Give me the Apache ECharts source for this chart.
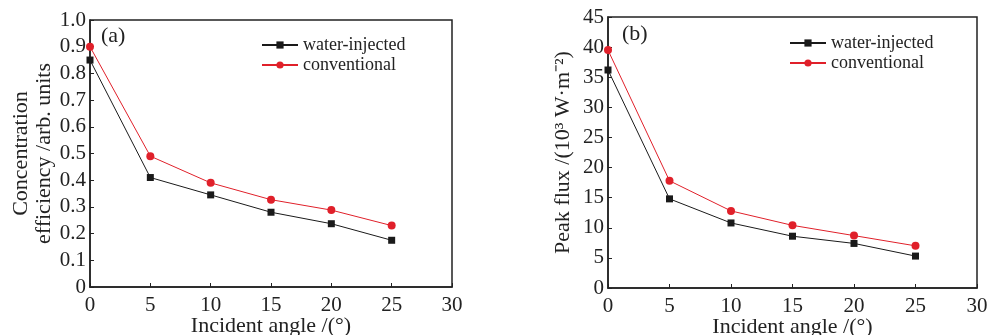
<!DOCTYPE html>
<html><head><meta charset="utf-8">
<script src="https://cdn.jsdelivr.net/npm/echarts@6/dist/echarts.min.js"></script>
<style>html,body{margin:0;padding:0;background:#fff}#c{width:992px;height:335px}</style>
</head><body><div id="c"></div>
<script>
const angles = [0, 5, 10, 15, 20, 25];
const effWater = [0.85, 0.41, 0.345, 0.28, 0.237, 0.175];
const effConv = [0.90, 0.49, 0.39, 0.327, 0.288, 0.23];
const fluxWater = [36.2, 14.8, 10.8, 8.6, 7.4, 5.3];
const fluxConv = [39.5, 17.8, 12.8, 10.4, 8.7, 7.0];
const seriesNames = ['water-injected', 'conventional'];
const panelLabels = ['(a)', '(b)'];

const FONT = 'Liberation Serif';
const black = '#1a1a1a', red = '#e0202a';
const pair = (xs, ys) => xs.map((x, i) => [x, ys[i]]);

function xAxis(gi) {
  return {
    type: 'value', gridIndex: gi, min: 0, max: 30, interval: 5,
    name: 'Incident angle /(°)', nameLocation: 'middle', nameGap: 28, nameMoveOverlap: false,
    nameTextStyle: {fontFamily: FONT, fontSize: 22, color: '#222'},
    axisLine: {lineStyle: {color: '#222', width: 1.5}},
    axisTick: {inside: true, length: 4, lineStyle: {color: '#222'}},
    axisLabel: {fontFamily: FONT, fontSize: 21, color: '#222', margin: 8},
    splitLine: {show: false}
  };
}
function yAxis(gi, max, interval, name, gap, fmt) {
  return {
    type: 'value', gridIndex: gi, min: 0, max: max, interval: interval,
    name: name, nameLocation: 'middle', nameGap: gap, nameRotate: 90, nameMoveOverlap: false,
    nameTextStyle: {fontFamily: FONT, fontSize: 22, color: '#222', lineHeight: 23},
    axisLine: {show: true, lineStyle: {color: '#222', width: 1.5}},
    axisTick: {show: true, inside: true, length: 4, lineStyle: {color: '#222'}},
    axisLabel: {fontFamily: FONT, fontSize: 21, color: '#222', margin: 4, formatter: fmt},
    splitLine: {show: false}
  };
}
function mk(name, gi, data, color, symbol, size) {
  return {
    name: name, type: 'line', xAxisIndex: gi, yAxisIndex: gi, data: data,
    symbol: symbol, symbolSize: size, itemStyle: {color: color},
    lineStyle: {color: color, width: 1}, emphasis: {disabled: true}
  };
}
const frame = {show: true, borderColor: '#222', borderWidth: 1.5, backgroundColor: 'transparent',
  containLabel: false, outerBoundsMode: 'none'};
const chart = echarts.init(document.getElementById('c'), null, {renderer: 'canvas'});
chart.setOption({
  animation: false,
  grid: [
    Object.assign({left: 90, top: 20, width: 362, height: 267}, frame),
    Object.assign({left: 608, top: 17, width: 369, height: 271}, frame)
  ],
  xAxis: [xAxis(0), xAxis(1)],
  yAxis: [
    yAxis(0, 1.0, 0.1, 'Concentration\nefficiency /arb. units', 34, v => v === 0 ? '0' : v.toFixed(1)),
    yAxis(1, 45, 5, 'Peak flux /(10³ W·m⁻²)', 33, v => String(v))
  ],
  legend: [
    {left: 256, top: 31, orient: 'vertical', itemGap: 2, itemWidth: 36, itemHeight: 9,
     textStyle: {fontFamily: FONT, fontSize: 18, color: '#222'}, data: seriesNames, selectedMode: false},
    {left: 784, top: 29, orient: 'vertical', itemGap: 2, itemWidth: 36, itemHeight: 9,
     textStyle: {fontFamily: FONT, fontSize: 18, color: '#222'}, data: seriesNames, selectedMode: false}
  ],
  graphic: [
    {type: 'text', left: 101, top: 25, style: {text: panelLabels[0], font: '22px ' + FONT, fill: '#222'}},
    {type: 'text', left: 622, top: 23, style: {text: panelLabels[1], font: '22px ' + FONT, fill: '#222'}}
  ],
  series: [
    mk(seriesNames[0], 0, pair(angles, effWater), black, 'rect', 7),
    mk(seriesNames[1], 0, pair(angles, effConv), red, 'circle', 8),
    mk(seriesNames[0], 1, pair(angles, fluxWater), black, 'rect', 7),
    mk(seriesNames[1], 1, pair(angles, fluxConv), red, 'circle', 8)
  ]
});
</script></body></html>
